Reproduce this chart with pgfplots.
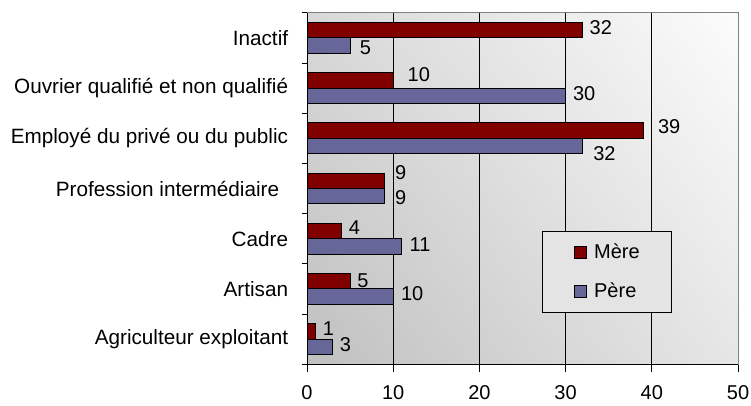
\documentclass[border=0pt]{standalone}
\usepackage{fontspec}
\setmainfont{Liberation Sans}
\usepackage{pgfplots}
\pgfplotsset{compat=1.18}
\usepackage{pgfplotstable}
\usetikzlibrary{shadings}
\definecolor{mere}{HTML}{800000}
\definecolor{pere}{HTML}{666699}
\definecolor{bgUL}{HTML}{D8D8D8}
\definecolor{bgUR}{HTML}{FCFCFC}
\definecolor{bgLL}{HTML}{C0C0C0}
\definecolor{bgLR}{HTML}{E6E6E6}
\definecolor{legfill}{HTML}{E4E4E4}
\definecolor{border}{HTML}{808080}

\pgfplotsset{sqlegend/.style={legend image code/.code={\draw[##1, draw=black, line width=1pt] (0pt,-6pt) rectangle (12pt,6pt);}}}

% y: category index, x: value, dx/dy: label offsets (pt)
\pgfplotstableread{
y x dx dy
0 1 6.7 10.35
1 5 6.7 8.15
2 4 7 10.65
3 9 10 15.65
4 39 14.4 11.65
5 10 14 12.95
6 32 6.3 9.85
}\tabMere
\pgfplotstableread{
y x dx dy
0 3 6.6 -5.85
1 10 7.3 -4.85
2 11 7.3 -5.95
3 9 10 -8.65
4 32 10 -15.65
5 30 7 -5.45
6 5 9.3 -9.85
}\tabPere

\begin{document}
\begin{tikzpicture}[font=\fontsize{20}{24}\selectfont]
\path[use as bounding box] (0,0) rectangle (751pt,405pt);
\begin{axis}[
  at={(307pt,40.7pt)}, anchor=south west,
  scale only axis, width=431pt, height=351.6pt,
  xmin=0, xmax=50, ymin=-0.5, ymax=6.5,
  xtick={0,10,...,50},
  ytick={0,...,6},
  yticklabels={Agriculteur exploitant, Artisan, Cadre, Profession intermédiaire\rule{9pt}{0pt}, Employé du privé ou du public, Ouvrier qualifié et non qualifié, Inactif},
  minor ytick={-0.5,0.5,...,6.5},
  tick pos=left,
  tick align=outside, major tick length=7.3pt, minor tick length=5.5pt,
  major y tick style={draw=none},
  tick style={black, line width=0.8pt},
  xmajorgrids, grid style={black, line width=0.8pt},
  axis line style={draw=border, line width=1pt},
  axis background/.style={shade, upper left=bgUL, upper right=bgUR, lower left=bgLL, lower right=bgLR},
  /pgf/number format/assume math mode=true,
  xticklabel style={font=\fontsize{20}{24}\selectfont, inner sep=0pt, anchor=north, yshift=-13.4pt},
  yticklabel style={font=\fontsize{20.7}{24}\selectfont, inner sep=0pt, anchor=east, xshift=-11.4pt},
  legend style={at={(0.546,0.380)}, anchor=north west, draw=black, line width=0.8pt, fill=legfill,
    inner xsep=31.7pt, inner ysep=13pt, row sep=22.6pt, column sep=6.7pt,
    nodes={inner sep=0pt}, font=\fontsize{20}{24}\selectfont},
  legend cell align=left,
]
\addplot[xbar, bar width=15.3pt, bar shift=7.65pt, fill=mere, draw=black, line width=1pt,
  sqlegend,
  point meta=x,
  visualization depends on={\thisrow{dx} \as \labdx},
  visualization depends on={\thisrow{dy} \as \labdy},
  nodes near coords,
  every node near coord/.append style={anchor=west, inner sep=0pt, xshift=\labdx pt, yshift=\labdy pt, black, font=\fontsize{20}{24}\selectfont}]
  table[x=x, y=y] {\tabMere};
\addlegendentry{Mère}
\addplot[xbar, bar width=15.3pt, bar shift=-7.65pt, fill=pere, draw=black, line width=1pt,
  sqlegend,
  point meta=x,
  visualization depends on={\thisrow{dx} \as \labdx},
  visualization depends on={\thisrow{dy} \as \labdy},
  nodes near coords,
  every node near coord/.append style={anchor=west, inner sep=0pt, xshift=\labdx pt, yshift=\labdy pt, black, font=\fontsize{20}{24}\selectfont}]
  table[x=x, y=y] {\tabPere};
\addlegendentry{Père}
\draw[black, line width=1pt] (rel axis cs:0,0) -- (rel axis cs:0,1);
\draw[black, line width=1pt] (rel axis cs:0,0) -- (rel axis cs:1,0);
\end{axis}
\end{tikzpicture}
\end{document}
